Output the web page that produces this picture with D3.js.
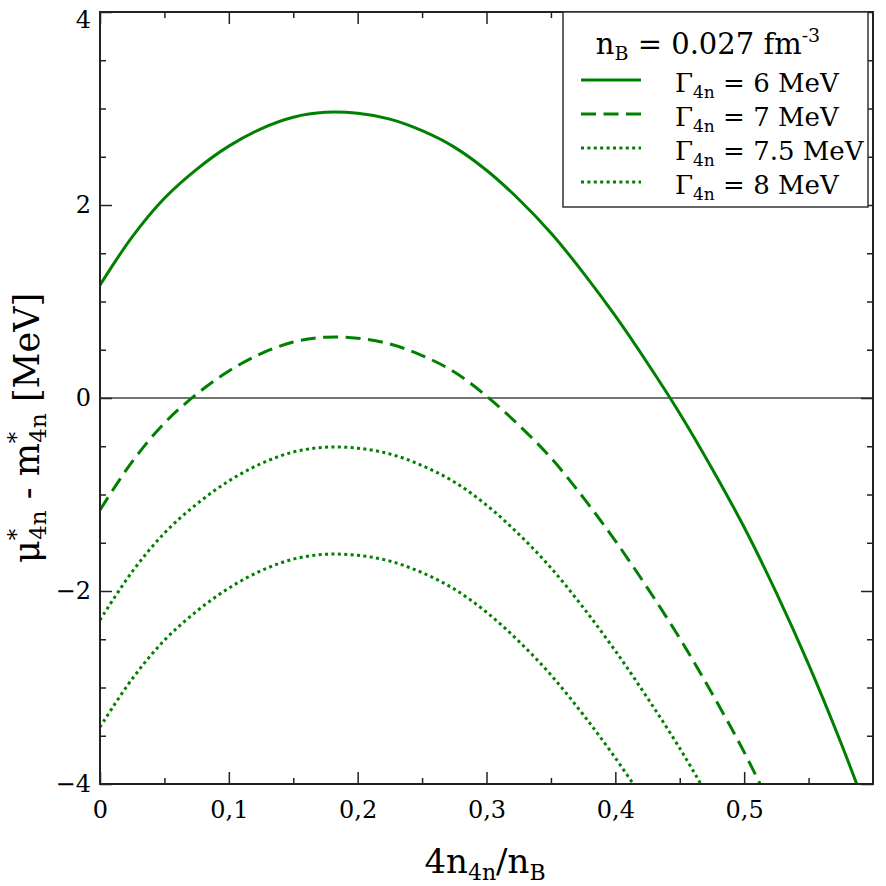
<!DOCTYPE html>
<html>
<head>
<meta charset="utf-8">
<script src="https://cdn.jsdelivr.net/npm/d3@7"></script>
<style>
  body { margin: 0; background: #fff; }
  svg { display: block; }
  text { font-family: "DejaVu Serif", serif; fill: #000; }
</style>
</head>
<body>
<svg width="886" height="886"></svg>
<script>
// x = 4 n_4n / n_B
let xValues = [0, 0.025, 0.05, 0.075, 0.1, 0.125, 0.15, 0.175, 0.2, 0.225, 0.25, 0.275,
               0.3, 0.325, 0.35, 0.375, 0.4, 0.425, 0.45, 0.475, 0.5, 0.525, 0.55, 0.575, 0.6]

// mu*_4n - m*_4n [MeV], one array per width Gamma_4n
let gamma6 = [1.17, 1.67, 2.07, 2.37, 2.61, 2.79, 2.91, 2.96, 2.95, 2.89, 2.77, 2.60,
              2.36, 2.06, 1.71, 1.30, 0.85, 0.36, -0.16, -0.73, -1.34, -2.02, -2.76, -3.57, -4.45]
let gamma7 = [-1.16, -0.66, -0.26, 0.04, 0.28, 0.46, 0.58, 0.63, 0.62, 0.56, 0.44, 0.27,
              0.02, -0.28, -0.62, -1.03, -1.48, -1.97, -2.49, -3.06, -3.67, -4.35]
let gamma75 = [-2.30, -1.80, -1.40, -1.10, -0.86, -0.68, -0.56, -0.51, -0.52, -0.58, -0.70, -0.87,
               -1.11, -1.41, -1.76, -2.17, -2.62, -3.11, -3.63, -4.20]
let gamma8 = [-3.41, -2.91, -2.51, -2.21, -1.97, -1.79, -1.67, -1.62, -1.63, -1.69, -1.81, -1.98,
              -2.22, -2.52, -2.87, -3.28, -3.73, -4.22]

let gammaLabels = ["6", "7", "7.5", "8"]
let xTicks = [0, 0.1, 0.2, 0.3, 0.4, 0.5]
let yTicks = [-4, -2, 0, 2, 4]

let seriesList = [gamma6, gamma7, gamma75, gamma8]
let dashes = [null, "15,7.5", "3,3.4", "3,3.4"]
let green = "#008000"

let pLeft = 100, pRight = 873, pTop = 12, pBottom = 784
let svg = d3.select('svg')

let x = d3.scaleLinear().domain([0, 0.6]).range([pLeft, pRight])
let y = d3.scaleLinear().domain([-4, 4]).range([pBottom, pTop])

svg.append('clipPath').attr('id', 'plot')
  .append('rect').attr('x', pLeft).attr('y', pTop)
  .attr('width', pRight - pLeft).attr('height', pBottom - pTop)

// zero line
svg.append('line')
  .attr('x1', pLeft).attr('x2', pRight)
  .attr('y1', y(0)).attr('y2', y(0))
  .attr('stroke', '#444').attr('stroke-width', 1.3)

let line = d3.line().x(d => x(d[0])).y(d => y(d[1])).curve(d3.curveCatmullRom.alpha(0.5))

let g = svg.append('g').attr('clip-path', 'url(#plot)')
seriesList.forEach((vals, i) => {
  g.append('path')
    .attr('d', line(vals.map((v, j) => [xValues[j], v])))
    .attr('fill', 'none')
    .attr('stroke', green)
    .attr('stroke-width', 3)
    .attr('stroke-dasharray', dashes[i])
})

// axes, ticks pointing inward
let xMinor = d3.range(0.05, 0.6, 0.1)
let yMinor = d3.range(-3.5, 4, 0.5).filter(v => Math.abs(v % 2) > 0.01)
let fmtX = d => d === 0 ? "0" : d.toFixed(1).replace(".", ",")
let fmtY = d => String(d).replace("-", "\u2212")

function styleAxis(sel) {
  sel.select('.domain').remove()
  sel.selectAll('line').attr('stroke', '#222').attr('stroke-width', 1.5)
  sel.selectAll('text').style('font-family', '"DejaVu Serif", serif').attr('font-size', 24).attr('fill', '#000')
}

svg.append('g').attr('transform', 'translate(0,' + pBottom + ')')
  .call(d3.axisBottom(x).tickValues(xTicks).tickSize(-12).tickPadding(17).tickFormat(fmtX))
  .call(styleAxis)
svg.append('g').attr('transform', 'translate(0,' + pBottom + ')')
  .call(d3.axisBottom(x).tickValues(xMinor).tickSize(-6).tickFormat(''))
  .call(styleAxis)
svg.append('g').attr('transform', 'translate(0,' + pTop + ')')
  .call(d3.axisTop(x).tickValues(xTicks).tickSize(-12).tickFormat(''))
  .call(styleAxis)
svg.append('g').attr('transform', 'translate(0,' + pTop + ')')
  .call(d3.axisTop(x).tickValues(xMinor).tickSize(-6).tickFormat(''))
  .call(styleAxis)

let yAxisG = svg.append('g').attr('transform', 'translate(' + pLeft + ',0)')
  .call(d3.axisLeft(y).tickValues(yTicks).tickSize(-12).tickPadding(9).tickFormat(fmtY))
  .call(styleAxis)
// top label sits just below the frame corner, as in the original
yAxisG.selectAll('.tick text').filter(d => d === 4).attr('dy', '0.65em')
svg.append('g').attr('transform', 'translate(' + pLeft + ',0)')
  .call(d3.axisLeft(y).tickValues(yMinor).tickSize(-6).tickFormat(''))
  .call(styleAxis)
svg.append('g').attr('transform', 'translate(' + pRight + ',0)')
  .call(d3.axisRight(y).tickValues(yTicks).tickSize(-12).tickFormat(''))
  .call(styleAxis)
svg.append('g').attr('transform', 'translate(' + pRight + ',0)')
  .call(d3.axisRight(y).tickValues(yMinor).tickSize(-6).tickFormat(''))
  .call(styleAxis)

// frame
svg.append('rect')
  .attr('x', pLeft).attr('y', pTop)
  .attr('width', pRight - pLeft).attr('height', pBottom - pTop)
  .attr('fill', 'none').attr('stroke', '#222').attr('stroke-width', 2)

// axis titles
let xt = svg.append('text').attr('x', 485).attr('y', 873)
  .attr('text-anchor', 'middle').attr('font-size', 34)
xt.append('tspan').text('4n')
xt.append('tspan').attr('font-size', 22).attr('dy', 7).text('4n')
xt.append('tspan').attr('dy', -7).text('/n')
xt.append('tspan').attr('font-size', 22).attr('dy', 7).text('B')

let yt = svg.append('text')
  .attr('transform', 'translate(39,428) rotate(-90)')
  .attr('text-anchor', 'middle').attr('font-size', 35)
yt.append('tspan').text('\u03bc')
yt.append('tspan').attr('font-size', 23).attr('dy', -15).text('*')
yt.append('tspan').attr('font-size', 23).attr('dx', -11).attr('dy', 22).text('4n')
yt.append('tspan').attr('dy', -7).text(' - m')
yt.append('tspan').attr('font-size', 23).attr('dy', -15).text('*')
yt.append('tspan').attr('font-size', 23).attr('dx', -11).attr('dy', 22).text('4n')
yt.append('tspan').attr('dy', -7).text(' [MeV]')

// legend
let lg = svg.append('g')
lg.append('rect')
  .attr('x', 563).attr('y', pTop).attr('width', 305).attr('height', 195)
  .attr('fill', '#fff').attr('stroke', '#333').attr('stroke-width', 1.5)

let lt = lg.append('text').attr('x', 708).attr('y', 54)
  .attr('text-anchor', 'middle').attr('font-size', 29)
lt.append('tspan').text('n')
lt.append('tspan').attr('font-size', 19).attr('dy', 6).text('B')
lt.append('tspan').attr('dy', -6).text(' = 0.027 fm')
lt.append('tspan').attr('font-size', 19).attr('dy', -12).text('-3')

gammaLabels.forEach((lab, i) => {
  let ly = 80 + i * 34
  lg.append('line')
    .attr('x1', 581).attr('x2', 641).attr('y1', ly).attr('y2', ly)
    .attr('stroke', green).attr('stroke-width', 3)
    .attr('stroke-dasharray', dashes[i])
  let t = lg.append('text').attr('x', 675).attr('y', ly + 12).attr('font-size', 26)
  t.append('tspan').text('\u0393')
  t.append('tspan').attr('font-size', 17).attr('dy', 6).text('4n')
  t.append('tspan').attr('dy', -6).text(' = ' + lab + ' MeV')
})
</script>
</body>
</html>
